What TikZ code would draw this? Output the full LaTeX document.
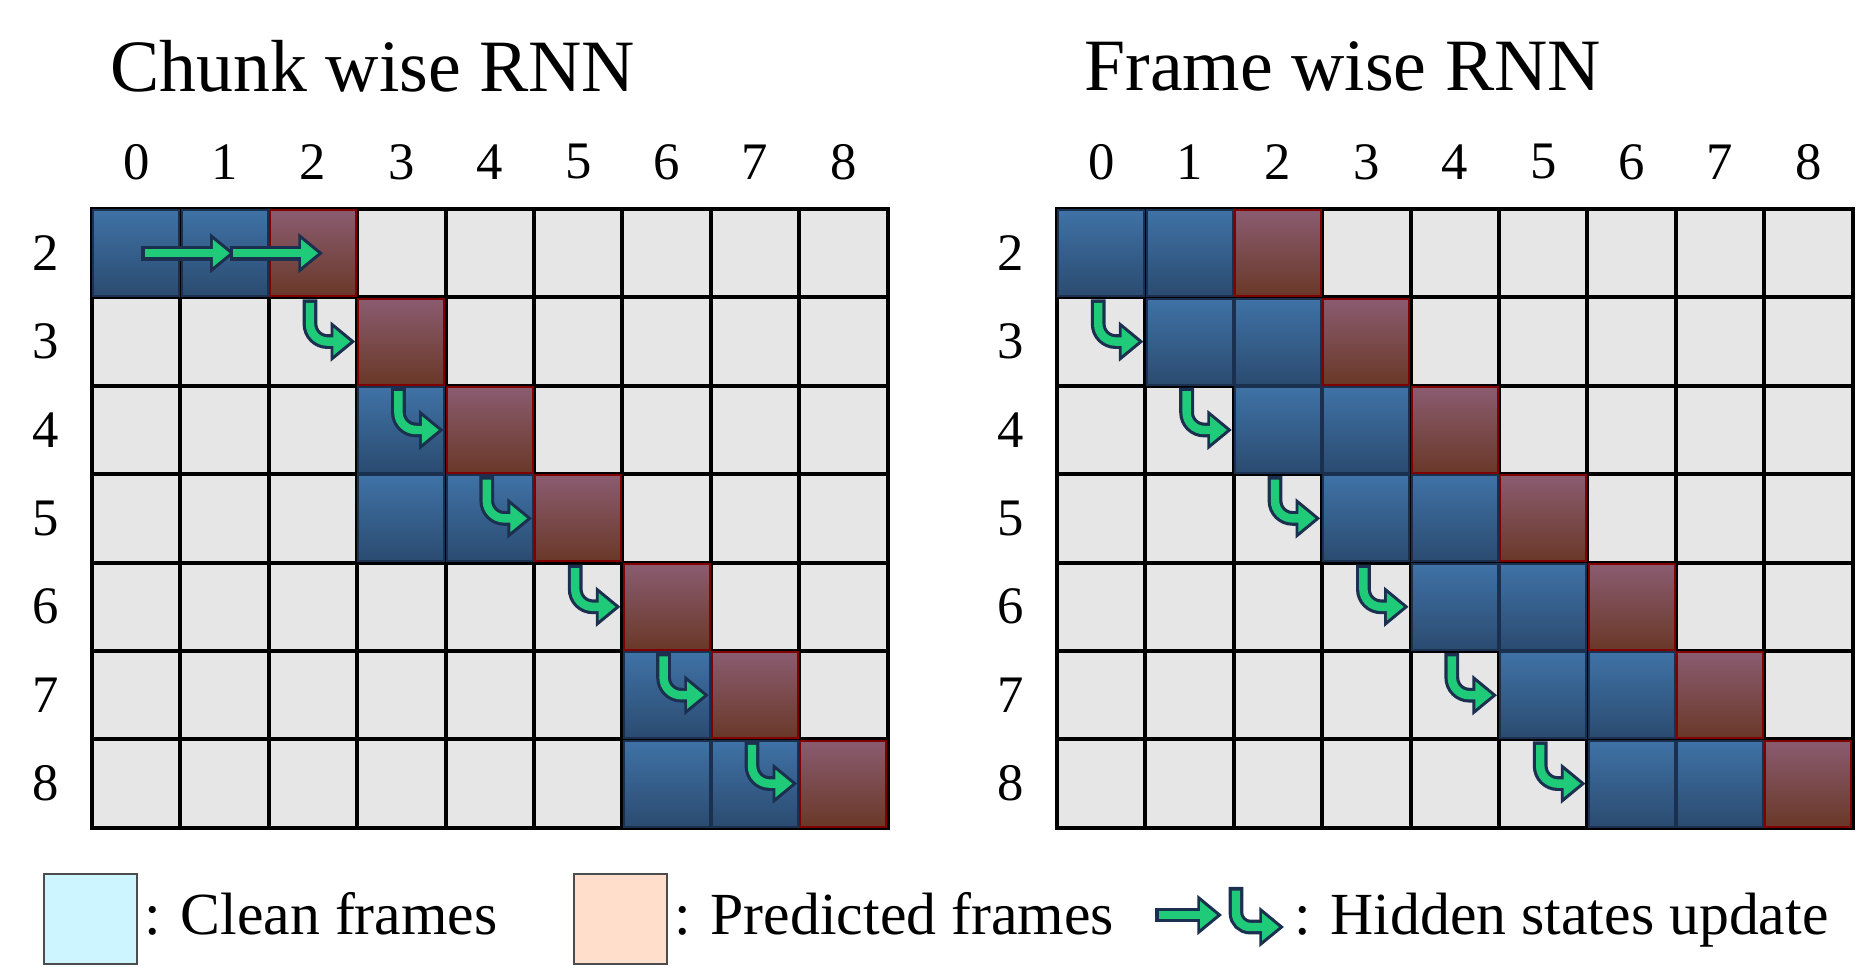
\documentclass[tikz,border=0pt]{standalone}
\usepackage{fontspec}
\setmainfont{Liberation Serif}
\usetikzlibrary{arrows.meta,positioning}

\definecolor{cellgray}{HTML}{E6E6E6}
\definecolor{hsgreen}{HTML}{1FCB78}
\definecolor{hsnavy}{HTML}{1B2F4F}
\definecolor{cleantop}{HTML}{3F72A6}
\definecolor{cleanbot}{HTML}{2B4B70}
\definecolor{predtop}{HTML}{8A5C70}
\definecolor{predbot}{HTML}{6A3828}

\begin{document}
\begin{tikzpicture}[
    cell/.style={rectangle,draw=black,line width=1.1pt,fill=cellgray,minimum size=0.884cm,inner sep=0pt},
    clean/.style={rectangle,draw=hsnavy,line width=0.6pt,top color=cleantop,bottom color=cleanbot,minimum size=0.86cm,inner sep=0pt},
    pred/.style={rectangle,draw=red!50!black,line width=0.6pt,top color=predtop,bottom color=predbot,minimum size=0.86cm,inner sep=0pt},
    hsout/.style={draw=hsnavy,line width=4.2pt,-{Triangle[length=7pt,width=11pt]}},
    hsin/.style={draw=hsgreen,line width=2.4pt,shorten >=1.4pt,shorten <=1pt,-{Triangle[length=4.8pt,width=7.5pt]}},
    lbl/.style={font=\fontsize{15}{15}\selectfont},
    title/.style={font=\fontsize{21}{21}\selectfont,anchor=west},
    legtext/.style={font=\fontsize{17}{17}\selectfont,anchor=base west,inner sep=1pt}
]
    \useasboundingbox (0,0) rectangle (18.71,9.79);

    % Titles
    \node[title] (tchunk) at (0.98,9.13) {Chunk wise RNN};
    \node[title] (tframe) at (10.72,9.13) {Frame wise RNN};

    % Grids: L = chunk wise, R = frame wise
    \foreach \g/\xo in {L/0.92,R/10.57} {
        \foreach \c in {0,...,8} {
            \node[lbl] (\g-col-\c) at (\xo+\c*0.884+0.442,8.17) {\c};
        }
        \foreach \r [count=\i from 0] in {2,...,8} {
            \node[lbl] (\g-row-\r) at (\xo-0.46,7.70-\i*0.884-0.442) {\r};
            \foreach \c in {0,...,8} {
                \node[cell] (\g-\r-\c) at (\xo+\c*0.884+0.442,7.70-\i*0.884-0.442) {};
            }
        }
    }

    % Frames, chunk wise
    \foreach \n in {L-2-0,L-2-1,L-4-3,L-5-3,L-5-4,L-7-6,L-8-6,L-8-7}
        \node[clean] at (\n) {};
    \foreach \n in {L-2-2,L-3-3,L-4-4,L-5-5,L-6-6,L-7-7,L-8-8}
        \node[pred] at (\n) {};

    % Frames, frame wise
    \foreach \n in {R-2-0,R-2-1,R-3-1,R-3-2,R-4-2,R-4-3,R-5-3,R-5-4,R-6-4,R-6-5,R-7-5,R-7-6,R-8-6,R-8-7}
        \node[clean] at (\n) {};
    \foreach \n in {R-2-2,R-3-3,R-4-4,R-5-5,R-6-6,R-7-7,R-8-8}
        \node[pred] at (\n) {};

    % Hidden states updates, chunk wise
    \foreach \s in {hsout,hsin} {
        \draw[\s] ([xshift=0.5mm]L-2-0.center) -- ([xshift=1mm]L-2-1.center);
        \draw[\s] ([xshift=0.5mm]L-2-1.center) -- ([xshift=1mm]L-2-2.center);
    }
    \foreach \a/\b/\c in {2/2/3,3/3/4,4/4/5,5/5/6,6/6/7,7/7/8} {
        \pgfmathtruncatemacro{\nr}{\a+1}
        \foreach \s in {hsout,hsin}
            \draw[\s,rounded corners=5pt] ([xshift=-0.3mm]L-\a-\b.south) |- (L-\nr-\c.west);
    }

    % Hidden states updates, frame wise
    \foreach \a/\b/\c in {2/0/1,3/1/2,4/2/3,5/3/4,6/4/5,7/5/6} {
        \pgfmathtruncatemacro{\nr}{\a+1}
        \foreach \s in {hsout,hsin}
            \draw[\s,rounded corners=5pt] ([xshift=-0.3mm]R-\a-\b.south) |- (R-\nr-\c.west);
    }

    % Legend
    \node[rectangle,draw=black!70,line width=0.8pt,fill=blue!20!cyan!20,minimum width=0.93cm,minimum height=0.9cm] (kclean) at (0.905,0.60) {};
    \node[legtext] (tclean) at (1.40,0.44) {: Clean frames};
    \node[rectangle,draw=black!70,line width=0.8pt,fill=red!25!orange!20,minimum width=0.93cm,minimum height=0.9cm] (kpred) at (6.205,0.60) {};
    \node[legtext] (tpred) at (6.70,0.44) {: Predicted frames};
    \coordinate (ka) at (11.55,0.64);
    \coordinate (kb) at (12.22,0.64);
    \coordinate (kc) at (12.36,0.92);
    \coordinate (kd) at (12.84,0.52);
    \foreach \s in {hsout,hsin} {
        \draw[\s] (ka) -- (kb);
        \draw[\s,rounded corners=4pt] (kc) |- (kd);
    }
    \node[legtext] (thidden) at (12.90,0.44) {: Hidden states update};
\end{tikzpicture}
\end{document}
